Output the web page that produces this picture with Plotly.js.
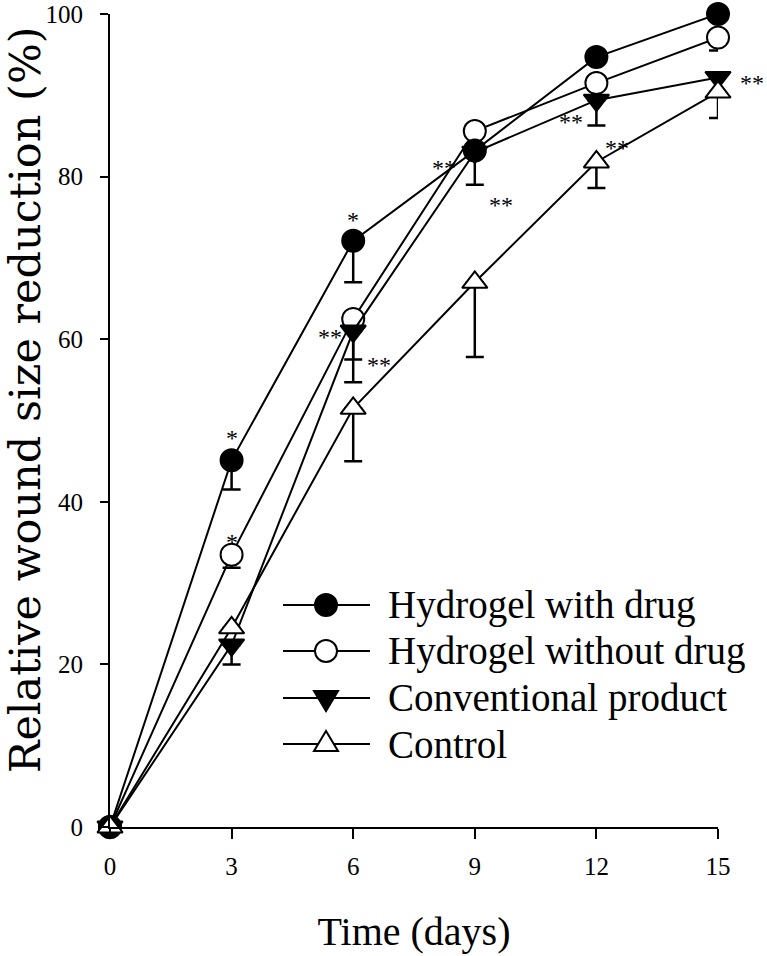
<!DOCTYPE html>
<html><head><meta charset="utf-8">
<script src="https://cdn.plot.ly/plotly-3.0.1.min.js"></script>
<style>html,body{margin:0;padding:0;background:#fff}#chart{width:767px;height:956px}</style>
</head><body><div id="chart"></div>
<script>
// ---- data ----
const days = [0, 3, 6, 9, 12, 15];
const seriesNames = ['Hydrogel with drug', 'Hydrogel without drug', 'Conventional product', 'Control'];
const withDrug = [0, 45.1, 72.1, 83.2, 94.7, 100];
const withDrugErr = [0, 3.6, 5.1, 0, 0, 0];
const withoutDrug = [0, 33.5, 62.5, 85.6, 91.5, 97.1];
const withoutDrugErr = [0, 1.6, 5.0, 0, 0, 1.6];
const conventional = [0, 22.4, 61.0, 83.0, 89.4, 92.2];
const conventionalErr = [0, 2.4, 6.3, 4.0, 3.1, 0];
const control = [0, 24.5, 51.5, 67.0, 81.8, 90.4];
const controlErr = [0, 0, 6.5, 9.2, 3.2, 3.2];
const xTicks = [0, 3, 6, 9, 12, 15];
const yTicks = [0, 20, 40, 60, 80, 100];
const starX = [3, 3, 6, 5.43, 6.64, 8.24, 9.65, 11.37, 12.5, 15];
const starY = [48.5, 35.7, 75.3, 60.9, 57.4, 81.7, 77.1, 87.3, 84.1, 92.1];
const starText = ['*', '*', '*', '**', '**', '**', '**', '**', '**', '**'];

// ---- styles ----
const SERIF = 'Liberation Serif, Times New Roman, serif';
const styles = [
  {symbol: 'circle', fill: '#000'},
  {symbol: 'circle', fill: '#fff'},
  {symbol: 'triangle-down', fill: '#000'},
  {symbol: 'triangle-up', fill: '#fff'}
];
const values = [withDrug, withoutDrug, conventional, control];
const errs = [withDrugErr, withoutDrugErr, conventionalErr, controlErr];
const drawOrder = [1, 0, 2, 3];

const traces = drawOrder.map(i => ({
  x: days, y: values[i], name: seriesNames[i], type: 'scatter', mode: 'lines+markers',
  cliponaxis: false, showlegend: false,
  line: {color: '#000', width: 2},
  marker: {symbol: styles[i].symbol, size: 22, color: styles[i].fill, line: {color: '#000', width: 2}},
  error_y: {type: 'data', symmetric: false, array: days.map(() => 0), arrayminus: errs[i],
            color: '#000', thickness: 2.5, width: 9}
}));

// plot area in pixels
const L = 110, R = 49, T = 14, B = 129, W = 767, H = 956;
const pw = W - L - R, ph = H - T - B;
const px2x = p => (p - L) / pw;
const py2y = p => (H - B - p) / ph;

// custom legend
const legRows = [605, 651, 698, 744];
const shapes = [];
const annotations = [];
legRows.forEach((py, i) => {
  shapes.push({type: 'line', xref: 'paper', yref: 'paper', x0: px2x(283), x1: px2x(370), y0: py2y(py), y1: py2y(py),
               line: {color: '#000', width: 2}});
  const base = {xref: 'paper', yref: 'paper', xsizemode: 'pixel', ysizemode: 'pixel',
                xanchor: px2x(326), yanchor: py2y(py), fillcolor: styles[i].fill, line: {color: '#000', width: 2}};
  if (styles[i].symbol === 'circle') {
    shapes.push(Object.assign({type: 'circle', x0: -11, x1: 11, y0: -11, y1: 11}, base));
  } else if (styles[i].symbol === 'triangle-down') {
    shapes.push(Object.assign({type: 'path', path: 'M-12,7L12,7L0,-13Z'}, base));
  } else {
    shapes.push(Object.assign({type: 'path', path: 'M-12,-7L12,-7L0,13Z'}, base));
  }
  annotations.push({xref: 'paper', yref: 'paper', x: px2x(386), y: py2y(py), xanchor: 'left', yanchor: 'middle',
                    text: seriesNames[i], showarrow: false, font: {family: SERIF, size: 39, color: '#000'}});
});
starText.forEach((t, i) => {
  const a = {x: starX[i], y: starY[i], xref: 'x', yref: 'y', text: t, showarrow: false,
             font: {family: SERIF, size: 24, color: '#000'}, yshift: -5};
  if (i === starText.length - 1) { a.xanchor = 'left'; a.xshift = 20; }
  annotations.push(a);
});
// y-axis title (placed as rotated annotation to match the reference position)
annotations.push({xref: 'paper', yref: 'paper', x: px2x(25), y: py2y(400), xanchor: 'center', yanchor: 'middle',
                  textangle: -90, showarrow: false, text: 'Relative wound size reduction (%)',
                  font: {family: 'DejaVu Serif, Liberation Serif, serif', size: 43, color: '#000'}});

const layout = {
  width: W, height: H,
  margin: {l: L, r: R, t: T, b: B},
  paper_bgcolor: '#fff', plot_bgcolor: '#fff',
  showlegend: false,
  xaxis: {
    range: [0, 15], tickvals: xTicks, ticktext: xTicks.map(String),
    ticks: 'outside', ticklen: 10, tickwidth: 2, tickcolor: '#000',
    showline: true, linewidth: 2, linecolor: '#000', showgrid: false, zeroline: false,
    tickfont: {family: SERIF, size: 25, color: '#000'}, ticklabelstandoff: 6,
    title: {text: 'Time (days)', font: {family: SERIF, size: 40, color: '#000'}, standoff: 38},
    fixedrange: true
  },
  yaxis: {
    range: [0, 100], tickvals: yTicks, ticktext: yTicks.map(String),
    ticks: 'outside', ticklen: 8, tickwidth: 2, tickcolor: '#000',
    showline: true, linewidth: 2, linecolor: '#000', showgrid: false, zeroline: false,
    tickfont: {family: SERIF, size: 25, color: '#000'}, ticklabelstandoff: 12,
    fixedrange: true
  },
  shapes: shapes,
  annotations: annotations
};

Plotly.newPlot('chart', traces, layout, {displayModeBar: false, staticPlot: true});
</script>
</body></html>
